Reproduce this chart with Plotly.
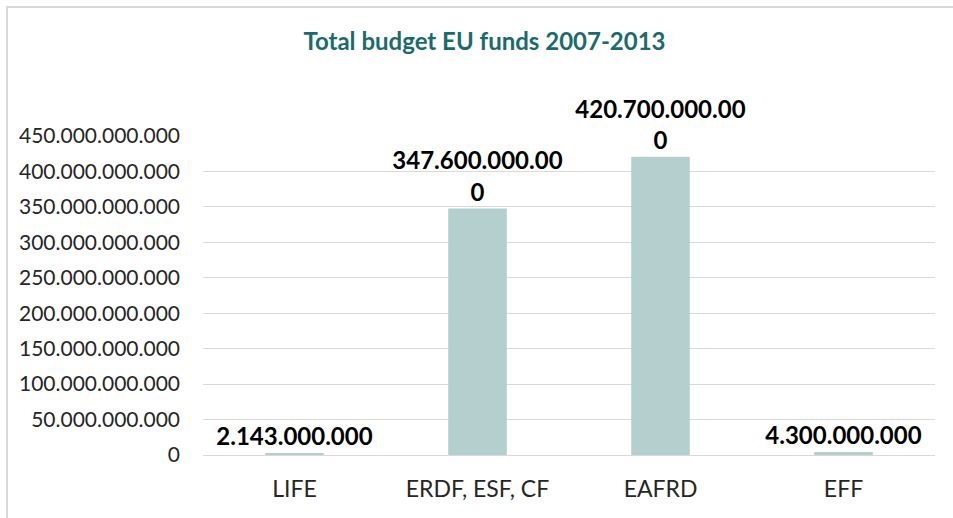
import plotly.graph_objects as go

categories = ["LIFE", "ERDF, ESF, CF", "EAFRD", "EFF"]
budget = [2143000000, 347600000000, 420700000000, 4300000000]
tick_values = [0, 50e9, 100e9, 150e9, 200e9, 250e9, 300e9, 350e9, 400e9, 450e9]
title_text = "Total budget EU funds 2007-2013"


def fmt(v):
    s = f"{int(v):,}".replace(",", ".")
    if len(s) > 13:
        s = s[:-1] + "<br>" + s[-1]
    return s


labels = [fmt(v) for v in budget]

fig = go.Figure(
    go.Bar(
        x=categories,
        y=budget,
        text=labels,
        textposition="outside",
        cliponaxis=False,
        constraintext="none",
        marker=dict(color="#b4cfce", line=dict(width=0)),
        textfont=dict(family="Lato", size=24, color="#000000", weight="bold"),
        width=0.32,
    )
)

fig.update_layout(
    width=953,
    height=518,
    separators=",.",
    plot_bgcolor="white",
    paper_bgcolor="white",
    margin=dict(l=203, r=18, t=136, b=63),
    showlegend=False,
    title=dict(
        text=title_text,
        x=(297 + 672) / 2 / 953,
        xanchor="center",
        y=1 - 42 / 518,
        yanchor="middle",
        font=dict(family="Lato", size=24, color="#1b6b6e", weight="bold"),
    ),
    xaxis=dict(
        showgrid=False,
        showline=False,
        ticks="",
        tickfont=dict(family="Lato", size=23, color="#262626"),
        ticklabelstandoff=18,
    ),
    yaxis=dict(
        range=[0, 450e9],
        tickvals=tick_values,
        tickformat=",d",
        showgrid=True,
        gridcolor="#d9d9d9",
        gridwidth=1,
        zeroline=True,
        zerolinecolor="#d9d9d9",
        zerolinewidth=1,
        showline=False,
        ticks="",
        tickfont=dict(family="Lato", size=21, color="#262626"),
        ticklabelstandoff=22,
    ),
    shapes=[
        dict(
            type="rect",
            xref="paper",
            yref="paper",
            x0=(7 - 203) / 732,
            x1=1.6,
            y0=-1,
            y1=(455 - 7) / 319,
            line=dict(color="#d9d9d9", width=2),
            fillcolor="rgba(0,0,0,0)",
            layer="below",
        )
    ],
)

fig.write_html(
    "out.html",
    config={"displayModeBar": False},
    post_script="document.body.style.margin='0';document.body.style.overflow='hidden';",
)
